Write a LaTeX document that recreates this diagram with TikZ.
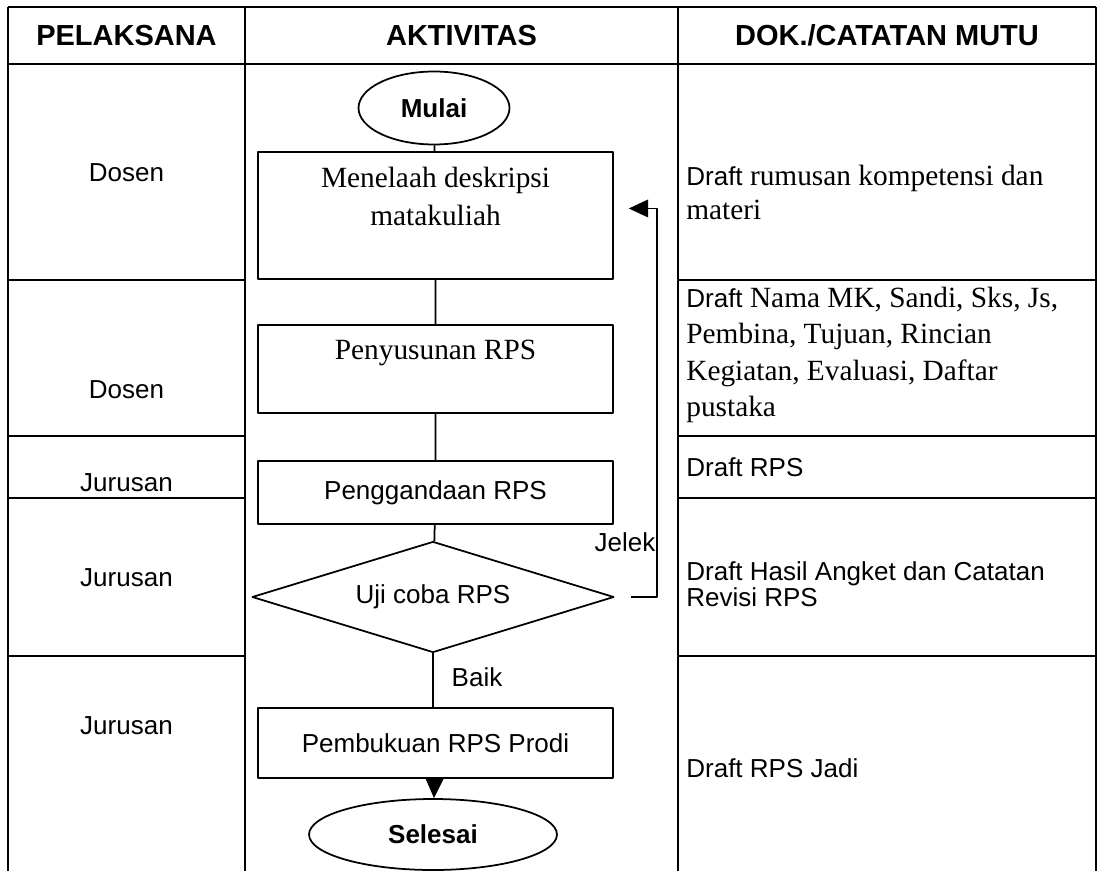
\documentclass[tikz,border=0pt]{standalone}
\usepackage{fontspec}
\setmainfont{Liberation Serif}
\setsansfont{Liberation Sans}
\usetikzlibrary{shapes.geometric,arrows.meta}
\newcommand{\drf}{{\sffamily\fontsize{14.8}{17}\selectfont Draft}}
\begin{document}
\begin{tikzpicture}[x=0.02cm,y=-0.02cm,line join=round,
	font=\sffamily\fontsize{14.8}{17}\selectfont,
	>={Triangle[length=11pt,width=10pt]},
	tabel/.style={line width=1.5pt},
	garis/.style={line width=1pt},
	kotak/.style={draw,line width=1pt,minimum width=7.1cm,inner sep=0pt,align=center},
	oval/.style={draw,ellipse,line width=1pt,inner sep=0pt,font=\sffamily\bfseries\fontsize{14.8}{17}\selectfont},
	judul/.style={font=\sffamily\bfseries\fontsize{16.5}{19}\selectfont},
	dok/.style={anchor=west,align=left,inner sep=0pt}]
	\useasboundingbox (0,0) rectangle (1097,871);
	% tabel
	\draw[tabel] (8,7)--(1096,7) (8,64)--(1096,64);
	\draw[tabel] (8,7)--(8,871) (245,7)--(245,871) (678,7)--(678,871) (1096,7)--(1096,871);
	\foreach \y in {280,436,498,656}
		\draw[tabel] (8,\y)--(245,\y) (678,\y)--(1096,\y);
	\node[judul] (hpel) at (126.5,35.5) {PELAKSANA};
	\node[judul] (hakt) at (461.5,35.5) {AKTIVITAS};
	\node[judul] (hdok) at (887,35.5) {DOK./CATATAN MUTU};
	% pelaksana
	\node (p1) at (126.5,173) {Dosen};
	\node (p2) at (126.5,390) {Dosen};
	\node (p3) at (126.5,483) {Jurusan};
	\node (p4) at (126.5,578) {Jurusan};
	\node (p5) at (126.5,726) {Jurusan};
	% aktivitas
	\node[oval,minimum width=3.02cm,minimum height=1.46cm] (mulai) at (434,108) {Mulai};
	\node[kotak,minimum height=2.54cm,font=\rmfamily\fontsize{16.7}{21.5}\selectfont] (menelaah) at (435.5,215.5) {Menelaah deskripsi\\ matakuliah\\ \mbox{}};
	\node[kotak,minimum height=1.76cm,font=\rmfamily\fontsize{16.7}{21.5}\selectfont] (susun) at (435.5,369) {Penyusunan RPS\\ \mbox{}};
	\node[kotak,minimum height=1.26cm] (ganda) at (435.5,492.5) {Penggandaan RPS};
	\node[draw,diamond,line width=1pt,inner sep=0pt,aspect=3.26,minimum width=7.24cm,minimum height=2.22cm] (uji) at (433,597) {Uji coba RPS};
	\node[kotak,minimum height=1.4cm] (buku) at (435.5,743) {Pembukuan RPS Prodi};
	\node[oval,minimum width=4.96cm,minimum height=1.42cm] (selesai) at (433,834.5) {Selesai};
	\coordinate (balik) at (657,400);
	\draw[garis] (mulai)--(menelaah) (menelaah)--(susun) (susun)--(ganda) (ganda)--(uji);
	\draw[garis] (uji.south)--(uji.south|-buku.north);
	\draw[garis,->] (buku)--(selesai);
	\draw[garis,->,shorten <=9pt,shorten >=8.5pt] (uji.east)-|(balik)|-([yshift=4pt]menelaah.east);
	\node (jelek) at (625,542) {Jelek};
	\node (baik) at (477,677) {Baik};
	% dokumen
	\node[dok,font=\rmfamily\fontsize{16.7}{19.8}\selectfont] (d1) at (686,192.5) {\drf{} rumusan kompetensi dan\\ materi};
	\node[dok,font=\rmfamily\fontsize{16.7}{20.8}\selectfont] (d2) at (686,355) {\drf{} Nama MK, Sandi, Sks, Js,\\ Pembina, Tujuan, Rincian\\ Kegiatan, Evaluasi, Daftar\\ pustaka};
	\node[dok] (d3) at (686,467) {Draft RPS};
	\node[dok,font=\sffamily\fontsize{14.8}{14.5}\selectfont] (d4) at (686,584) {Draft Hasil Angket dan Catatan\\ Revisi RPS};
	\node[dok] (d5) at (686,768) {Draft RPS Jadi};
\end{tikzpicture}
\end{document}
